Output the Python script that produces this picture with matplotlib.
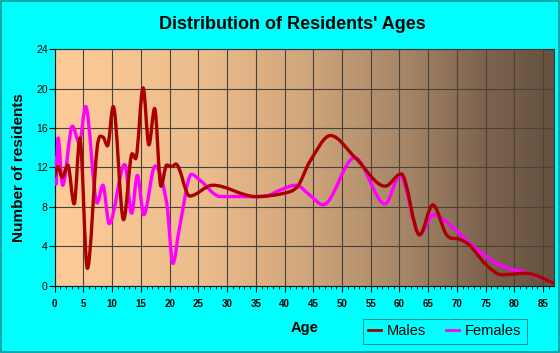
import numpy as np
import matplotlib
matplotlib.use("Agg")
import matplotlib.pyplot as plt
from matplotlib.path import Path
from matplotlib.patches import PathPatch, Rectangle
from matplotlib.colors import LinearSegmentedColormap
from matplotlib.lines import Line2D

# values (age, number of residents)
male_age = [0, 0.6, 1.3, 2.3, 3.4, 4.4, 5.7, 7.4, 8.4, 9.2, 10.2, 12.0, 13.5, 14.1,
            15.4, 16.4, 17.4, 18.5, 19.5, 20.4, 21.1, 23.5, 27.5, 35, 40, 42.3, 44.4,
            48, 52.3, 57.5, 60.3, 63.5, 65.8, 68.2, 70.5, 72.2, 75.1, 77.8, 82, 86.9]
male_val = [11.1, 12.1, 11.0, 12.25, 8.3, 15.0, 1.75, 14.0, 15.1, 14.2, 18.2, 6.7, 13.4, 12.9,
            20.1, 14.3, 18.0, 10.1, 12.25, 12.1, 12.35, 9.1, 10.2, 9.05, 9.4, 10.1, 12.6,
            15.25, 13.0, 10.1, 11.35, 5.15, 8.2, 5.15, 4.7, 4.1, 2.1, 1.1, 1.25, 0.25]

female_age = [0, 0.25, 0.6, 1.4, 3.1, 4.3, 5.4, 7.4, 8.4, 9.5, 12.2, 13.4, 14.4, 15.5,
              17.5, 19.5, 20.6, 21.7, 23.8, 25.5, 28.8, 33, 36.9, 39.2, 42.0, 44.4, 46.7,
              52.2, 57.5, 60.1, 63.5, 65.9, 68.8, 72.2, 75.1, 78, 82.1, 86.9]
female_val = [13.0, 10.3, 15.0, 10.2, 16.2, 14.5, 18.2, 8.4, 10.2, 6.3, 12.3, 7.35, 11.2, 7.2,
              12.15, 8.4, 2.25, 5.8, 11.3, 10.6, 9.05, 9.05, 9.1, 9.7, 10.2, 9.2, 8.2,
              13.0, 8.3, 11.2, 5.2, 7.2, 6.15, 4.3, 2.95, 1.95, 1.3, 0.3]

x_ticks = list(range(0, 90, 5))
y_ticks = list(range(0, 28, 4))


def smooth_path(xs, ys):
    # cubic bezier through the points, flat tangent at peaks and dips
    xs = np.asarray(xs, float)
    ys = np.asarray(ys, float)
    n = len(xs)
    m = np.zeros(n)
    for i in range(n):
        if i == 0:
            m[i] = (ys[1] - ys[0]) / (xs[1] - xs[0])
        elif i == n - 1:
            m[i] = (ys[-1] - ys[-2]) / (xs[-1] - xs[-2])
        elif (ys[i] - ys[i - 1]) * (ys[i + 1] - ys[i]) <= 0:
            m[i] = 0
        else:
            m[i] = (ys[i + 1] - ys[i - 1]) / (xs[i + 1] - xs[i - 1])
    verts = [(xs[0], ys[0])]
    codes = [Path.MOVETO]
    for i in range(n - 1):
        h = xs[i + 1] - xs[i]
        verts += [(xs[i] + h / 3, ys[i] + m[i] * h / 3),
                  (xs[i + 1] - h / 3, ys[i + 1] - m[i + 1] * h / 3),
                  (xs[i + 1], ys[i + 1])]
        codes += [Path.CURVE4] * 3
    return Path(verts, codes)


plt.rcParams['font.family'] = ['Liberation Sans', 'DejaVu Sans']

fig = plt.figure(figsize=(5.6, 3.53), dpi=100, facecolor="#00FFFF")
fig.patches.append(Rectangle((0.001, 0.002), 0.997, 0.995, transform=fig.transFigure,
                             fill=False, ec="#119999", lw=1.2))
ax = fig.add_axes([0.0975, 0.191, 0.892, 0.669])

xmax = 86.9
cmap = LinearSegmentedColormap.from_list("bg", [
    (0.0, "#FDCC99"), (0.3, "#EBBC8C"), (0.5, "#D0A67C"),
    (0.7, "#A68666"), (0.85, "#7F6550"), (1.0, "#64503E")])
ax.imshow(np.linspace(0, 1, 256).reshape(1, -1), extent=[0, xmax, 0, 24],
          aspect="auto", cmap=cmap, zorder=-10)

ax.add_patch(PathPatch(smooth_path(female_age, female_val), fill=False,
                       ec="#FF00FF", lw=2.4, capstyle="round", joinstyle="round", zorder=3))
ax.add_patch(PathPatch(smooth_path(male_age, male_val), fill=False,
                       ec="#AA0000", lw=2.4, capstyle="round", joinstyle="round", zorder=4))

ax.set_xlim(0, xmax)
ax.set_ylim(0, 24)
ax.set_xticks(x_ticks)
ax.set_xticks(range(0, 87), minor=True)
ax.set_yticks(y_ticks)
ax.set_axisbelow(True)
ax.grid(True, which="major", color="#4A4238", lw=0.8)
ax.tick_params(axis="x", which="major", length=4, width=0.8, labelsize=7, pad=6)
ax.tick_params(axis="x", which="minor", length=2.5, width=0.6)
ax.tick_params(axis="y", length=4, width=0.8, labelsize=7.5, pad=1)
for lab in ax.get_xticklabels():
    lab.set_fontweight("bold")
for s in ["top", "right"]:
    ax.spines[s].set_color("#333333")
    ax.spines[s].set_linewidth(0.8)
for s in ["left", "bottom"]:
    ax.spines[s].set_color("#111111")
    ax.spines[s].set_linewidth(0.8)

ax.set_xlabel("Age", fontsize=10.5, fontweight="bold", labelpad=8)
ax.set_ylabel("Number of residents", fontsize=11, fontweight="bold", labelpad=7)
fig.text(0.522, 0.932, "Distribution of Residents' Ages", ha="center", va="center",
         fontsize=13, fontweight="bold")

handles = [Line2D([], [], color="#AA0000", lw=2), Line2D([], [], color="#FF00FF", lw=2)]
leg = fig.legend(handles, ["Males", "Females"], loc="center", bbox_to_anchor=(0.794, 0.061),
                 ncol=2, frameon=True, fancybox=False, fontsize=10.5, handlelength=0.9,
                 handletextpad=0.4, columnspacing=1.4, borderpad=0.35)
leg.get_frame().set_facecolor("#00FFFF")
leg.get_frame().set_edgecolor("#117777")
leg.get_frame().set_linewidth(0.8)

fig.savefig("out.png", dpi=100, facecolor=fig.get_facecolor())
